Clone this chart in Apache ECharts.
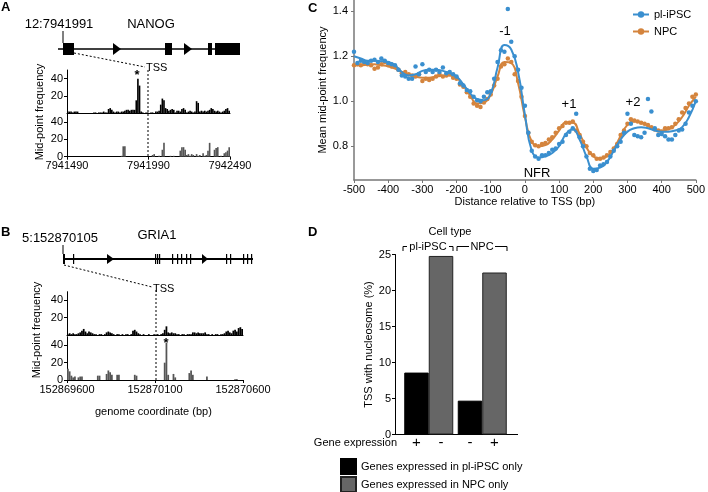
<!DOCTYPE html>
<html><head><meta charset="utf-8">
<script src="https://cdn.jsdelivr.net/npm/echarts@6/dist/echarts.min.js"></script>
<style>html,body{margin:0;padding:0;background:#fff}#c{width:708px;height:492px}</style>
</head><body><div id="c"></div>
<script>
const FONT = 'Liberation Sans, Arial, Helvetica, sans-serif';

// ---------- Panel A (NANOG) : 10-bp bins starting at aStart ----------
const aStart = 7941490;
const binSize = 10;
const aTicks = [7941490, 7941990, 7942490];
const aIPSC = [2,2,2,1,2,2,2, 0,0,0,0,0,0,0,0,0, 1,1,0,1,1,1,2,1,1, 5,6,4, 2,1,2,2,1,2,2,3, 4,4,3,4,4, 4,15,40,32,2, 1,0,1,1, 0,1,1,0, 2,2, 3,10,17,15,6, 5,3,4, 5,4, 1, 3,3,2, 5,6,4, 1,2,3,2,1,2, 14,12, 2,3,2,3,2,3, 4,6,5,3, 2,3,2,1,2,3, 5,6,3];
const aNPC = [0,0,0,0,0,0,0,0,0,0, 0,0,0,0,0,0,0,0,0,0, 0,0,0,0,0,0,0,0,0,0, 0,0,0, 1,12,12, 0,0,0,0,0,0,0,0,0,0,0,0,0,0,0,0, 2,3, 0,0,1,0, 8,16, 0,0,0,1, 0,1,0,0,0, 7,11,11,8, 2,3,1,3,2,0,3,1,2,0, 4, 1,2, 7,16, 0,0, 8,10,11, 0,1,0, 4,5, 7,11];

// ---------- Panel B (GRIA1) ----------
const bStart = 152869600;
const bTicks = [152869600, 152870100, 152870600];
const bIPSC = [1,2,1,2,1,1,2, 3,5,7,4,2, 4,3,2, 1,1,0,1,1,0,1, 3,4,3,2, 1,0,1,1,0,1,0,1,1,0,1, 5,6,4,2, 1,0,1,0,0,1,0,0,1,0,1,0,1,2, 6,10,3, 2,3,2,2, 1,1,0,1,1,0,1,1,1, 3,3,2,3,2,2, 2,3,1,1,0, 1,0,1,1,0,1,1,2, 4,5,3,2, 5,6,4, 8,9,7];
const bNPC = [13,10,5, 3,4,0,3, 4,4,0, 0,0,0,0,0,0,0, 5,5, 0,0,0, 7,11,9,6,0, 0,6,6,0, 0,0,0,0,0,0,0, 6,5,0, 0,0,0,0,0,0,0,0,0,0,0,0,0,0, 20,43,6, 0,0, 7,3, 0,0,0,0,0,0, 0, 8,11,6, 0,0,0,0,0,0,0, 4, 0,0,0,0,0,0,0,0,0,0,0,0,0,0,0, 1,1, 0,0,0];

// gene models (schematic units along the drawn gene line)
const geneALine = [[0, 182]];
const geneAExons = [[5, 16], [107, 114], [150, 154], [157, 182]];
const geneAArrows = [[55, 63], [126, 134]];
const geneBLine = [[0, 190]];
const geneBExons = [[0, 2], [10, 11], [92, 93], [94, 95], [96, 97], [109, 110], [114, 115], [118, 119], [123, 124], [127, 128], [163, 164], [167, 168], [180, 181], [184, 185], [188, 189]];
const geneBArrows = [[44, 51], [139, 145]];

// ---------- Panel C ----------
const cFitStep = 20, cDotStep = 10;
const cFitIPSC = [1.20,1.19,1.18,1.18,1.178,1.175,1.16,1.13,1.115,1.12,1.135,1.14,1.14,1.135,1.125,1.11,1.075,1.035,1.01,1.005,1.035,1.15,1.25,1.23,1.13,0.94,0.78,0.75,0.755,0.77,0.80,0.855,0.875,0.83,0.755,0.70,0.705,0.73,0.78,0.83,0.865,0.88,0.885,0.88,0.87,0.865,0.865,0.87,0.885,0.93,1.00];
const cFitNPC = [1.16,1.16,1.162,1.164,1.16,1.155,1.145,1.13,1.12,1.11,1.105,1.105,1.11,1.113,1.115,1.105,1.07,1.025,0.99,0.995,1.03,1.11,1.175,1.17,1.08,0.93,0.82,0.80,0.805,0.83,0.87,0.905,0.905,0.855,0.795,0.755,0.745,0.755,0.79,0.845,0.895,0.91,0.905,0.89,0.875,0.87,0.875,0.895,0.93,0.98,1.02];
const cDotIPSC = [1.22,1.17,1.18,1.175,1.17,1.18,1.185,1.175,1.19,1.18,
 1.17,1.165,1.16,1.14,1.115,1.11,1.10,1.10,1.155,1.12,
 1.165,1.13,1.14,1.13,1.14,1.13,1.15,1.125,1.13,1.12,
 1.11,1.08,1.07,1.05,1.045,1.02,1.005,1.00,1.02,1.04,
 1.045,1.10,1.175,1.227,1.22,1.41,1.265,1.20,1.14,1.06,
 0.98,0.86,0.78,0.755,0.745,0.76,0.76,0.77,0.785,0.79,
 0.81,0.82,0.85,0.865,0.88,0.945,0.84,0.80,0.755,0.70,
 0.69,0.695,0.715,0.72,0.73,0.755,0.78,0.80,0.82,0.86,
 0.945,0.90,0.85,0.845,0.84,0.86,1.01,0.955,0.88,0.85,
 0.855,0.845,0.83,0.83,0.85,0.87,0.875,0.90,0.95,0.98,
 1.00];
const cDotNPC = [1.16,1.165,1.16,1.17,1.165,1.16,1.145,1.15,1.165,1.175,
 1.16,1.155,1.155,1.14,1.125,1.13,1.12,1.115,1.11,1.12,
 1.09,1.10,1.095,1.10,1.11,1.12,1.11,1.115,1.12,1.105,
 1.10,1.075,1.065,1.04,1.02,0.99,0.98,0.975,0.995,1.01,
 1.03,1.07,1.10,1.155,1.165,1.19,1.175,1.12,1.09,1.02,
 0.935,0.86,0.82,0.805,0.80,0.81,0.815,0.83,0.84,0.86,
 0.88,0.89,0.905,0.905,0.91,0.87,0.85,0.82,0.80,0.77,
 0.76,0.745,0.745,0.75,0.76,0.775,0.79,0.81,0.85,0.87,
 0.90,0.92,0.915,0.91,0.905,0.90,0.895,0.885,0.875,0.87,
 0.865,0.88,0.88,0.885,0.90,0.92,0.95,0.97,0.99,1.02,
 1.03];
const cXMin = -500, cXMax = 500;
const cYTicks = [0.8, 1.0, 1.2, 1.4];

// ---------- Panel D ----------
const dCellTypes = ['pl-iPSC', 'NPC'];
const dIPSCOnly = [8.6, 4.7];
const dNPCOnly = [24.8, 22.5];
const dIPSCExpr = ['+', '-'];
const dNPCExpr = ['-', '+'];

// ---------------------------------------------------------------
const BLUE = '#3a8fcf', ORANGE = '#d4843d';
const chart = echarts.init(document.getElementById('c'));
const bins = (start, arr) => arr.map((_, i) => String(start + i * binSize));
const pairs = (step, arr) => arr.map((v, i) => [cXMin + i * step, v]);

function histY(grid, labels) {
  return {
    type: 'value', gridIndex: grid, min: 0, max: 50,
    axisLine: {show: true, onZero: false, lineStyle: {color: '#000', width: 1}},
    axisTick: {show: true, length: 3, customValues: labels, lineStyle: {color: '#000'}},
    axisLabel: {customValues: labels, fontSize: 11, color: '#000', margin: 4, fontFamily: FONT},
    splitLine: {show: false}
  };
}
function genomeX(grid, start, ticks) {
  return {
    type: 'value', gridIndex: grid, min: start, max: start + 1000, position: 'bottom',
    axisLine: {show: true, onZero: false, lineStyle: {color: '#000', width: 1}},
    axisTick: {show: true, length: 3, customValues: ticks, lineStyle: {color: '#000'}},
    axisLabel: {customValues: ticks, formatter: v => String(v), fontSize: 11, color: '#000', margin: 4, fontFamily: FONT},
    splitLine: {show: false}
  };
}
function catX(grid, data, showLine) {
  return {
    type: 'category', gridIndex: grid, data: data, boundaryGap: true,
    axisLine: {show: showLine, onZero: false, lineStyle: {color: '#000', width: 1}},
    axisTick: {show: false}, axisLabel: {show: false}, splitLine: {show: false}
  };
}
function geneRender(lw) {
  return function (params, api) {
    const kind = api.value(2);
    const s = api.coord([api.value(0), 0.5]);
    const e = api.coord([api.value(1), 0.5]);
    const top = api.coord([0, 1])[1], bot = api.coord([0, 0])[1];
    if (kind === 0) return {type: 'line', shape: {x1: s[0], y1: s[1], x2: e[0], y2: e[1]}, style: {stroke: '#000', lineWidth: lw}};
    if (kind === 1) return {type: 'rect', shape: {x: s[0], y: top, width: Math.max(e[0] - s[0], 1.2), height: bot - top}, style: {fill: '#000'}};
    return {type: 'polygon', shape: {points: [[s[0], top], [e[0], s[1]], [s[0], bot]]}, style: {fill: '#000'}};
  };
}
const geneData = (line, exons, arrows) =>
  line.map(d => [d[0], d[1], 0]).concat(exons.map(d => [d[0], d[1], 1]), arrows.map(d => [d[0], d[1], 2]));

function txt(x, y, s, opt) {
  return {type: 'text', x: x, y: y, style: Object.assign({text: s, fontSize: 11, fontFamily: FONT, fill: '#000', align: 'center', verticalAlign: 'middle'}, opt || {})};
}
function rtxt(x, y, s) {
  return {type: 'text', x: x, y: y, rotation: Math.PI / 2, style: {text: s, fontSize: 11, fontFamily: FONT, fill: '#000', align: 'center', verticalAlign: 'middle'}};
}
function ln(x1, y1, x2, y2, dash, w) {
  return {type: 'line', shape: {x1: x1, y1: y1, x2: x2, y2: y2}, style: {stroke: '#000', lineWidth: w || 1, lineDash: dash ? [2, 2] : null}};
}
function dLegend(name, top) {
  return {
    data: [name], left: 340, top: top, orient: 'vertical', icon: 'rect', padding: 0,
    itemWidth: 15, itemHeight: 15, itemGap: 3, selectedMode: false,
    textStyle: {fontSize: 11, color: '#000', fontFamily: FONT}
  };
}

const option = {
  animation: false,
  textStyle: {fontFamily: FONT, color: '#000'},
  grid: [
    {left: 67, top: 70, width: 163, height: 43.3},      // 0 A upper
    {left: 67, top: 113.4, width: 163, height: 43.3},   // 1 A lower
    {left: 67, top: 291.7, width: 176, height: 43.3},   // 2 B upper
    {left: 67, top: 336.7, width: 176, height: 43.3},   // 3 B lower
    {left: 354, top: 0, width: 343, height: 180},       // 4 C
    {left: 402, top: 254.5, width: 107, height: 180},   // 5 D
    {left: 58, top: 43, width: 182, height: 12},        // 6 gene A
    {left: 63, top: 254, width: 190, height: 10}        // 7 gene B
  ],
  xAxis: [
    catX(0, bins(aStart, aIPSC), true),
    Object.assign(catX(1, bins(aStart, aNPC), false), {show: false}),
    genomeX(1, aStart, aTicks),
    catX(2, bins(bStart, bIPSC), true),
    Object.assign(catX(3, bins(bStart, bNPC), false), {show: false}),
    genomeX(3, bStart, bTicks),
    {
      type: 'value', gridIndex: 4, min: cXMin, max: cXMax, interval: 100,
      axisLine: {show: true, onZero: false, lineStyle: {color: '#777', width: 1.5}},
      axisTick: {show: true, length: 3, lineStyle: {color: '#777'}},
      axisLabel: {fontSize: 11, color: '#000', margin: 4, fontFamily: FONT},
      splitLine: {show: false},
      name: 'Distance relative to TSS (bp)', nameLocation: 'middle', nameGap: 16,
      nameTextStyle: {fontSize: 11, color: '#000', fontFamily: FONT}
    },
    {type: 'category', gridIndex: 5, data: dCellTypes, axisLine: {show: false}, axisTick: {show: false}, axisLabel: {show: false}},
    {type: 'value', gridIndex: 6, min: 0, max: 182, show: false},
    {type: 'value', gridIndex: 7, min: 0, max: 190, show: false}
  ],
  yAxis: [
    histY(0, [20, 40]),
    histY(1, [0, 20, 40]),
    histY(2, [20, 40]),
    histY(3, [0, 20, 40]),
    {
      type: 'value', gridIndex: 4, min: 0.65, max: 1.45,
      axisLine: {show: true, onZero: false, lineStyle: {color: '#777', width: 1.5}},
      axisTick: {show: true, length: 3, customValues: cYTicks, lineStyle: {color: '#777'}},
      axisLabel: {customValues: cYTicks, formatter: v => v.toFixed(1), fontSize: 11, color: '#000', margin: 6, fontFamily: FONT},
      splitLine: {show: false},
      name: 'Mean mid-point frequency', nameLocation: 'middle', nameGap: 24,
      nameTextStyle: {fontSize: 11, color: '#000', fontFamily: FONT}
    },
    {
      type: 'value', gridIndex: 5, min: 0, max: 25, interval: 5, offset: 7,
      axisLine: {show: true, onZero: false, lineStyle: {color: '#000', width: 1}},
      axisTick: {show: true, length: 3, lineStyle: {color: '#000'}},
      axisLabel: {fontSize: 11, color: '#000', margin: 4, fontFamily: FONT},
      splitLine: {show: false},
      name: 'TSS with nucleosome (%)', nameLocation: 'middle', nameGap: 20,
      nameTextStyle: {fontSize: 11, color: '#000', fontFamily: FONT}
    },
    {type: 'value', gridIndex: 6, min: 0, max: 1, show: false},
    {type: 'value', gridIndex: 7, min: 0, max: 1, show: false}
  ],
  legend: [
    {
      data: ['pl-iPSC', 'NPC'], left: 632, top: 9, orient: 'vertical', padding: 0,
      itemWidth: 16, itemHeight: 8, itemGap: 6, selectedMode: false,
      textStyle: {fontSize: 11, color: '#000', fontFamily: FONT}
    },
    dLegend('Genes expressed in pl-iPSC only', 458),
    dLegend('Genes expressed in NPC only', 476)
  ],
  series: [
    {type: 'bar', name: 'A pl-iPSC', xAxisIndex: 0, yAxisIndex: 0, data: aIPSC, barCategoryGap: 0, itemStyle: {color: '#000'}},
    {type: 'bar', name: 'A NPC', xAxisIndex: 1, yAxisIndex: 1, data: aNPC, barCategoryGap: 0, itemStyle: {color: '#555'}},
    {type: 'bar', name: 'B pl-iPSC', xAxisIndex: 3, yAxisIndex: 2, data: bIPSC, barCategoryGap: 0, itemStyle: {color: '#000'}},
    {type: 'bar', name: 'B NPC', xAxisIndex: 4, yAxisIndex: 3, data: bNPC, barCategoryGap: 0, itemStyle: {color: '#555'}},
    {type: 'line', name: 'pl-iPSC', xAxisIndex: 6, yAxisIndex: 4, data: pairs(cFitStep, cFitIPSC), smooth: 0.5,
      symbol: 'circle', symbolSize: 5, showSymbol: false, lineStyle: {color: BLUE, width: 2}, itemStyle: {color: BLUE}, z: 3},
    {type: 'line', name: 'NPC', xAxisIndex: 6, yAxisIndex: 4, data: pairs(cFitStep, cFitNPC), smooth: 0.5,
      symbol: 'circle', symbolSize: 5, showSymbol: false, lineStyle: {color: ORANGE, width: 2}, itemStyle: {color: ORANGE}, z: 2},
    {type: 'scatter', name: 'pl-iPSC points', xAxisIndex: 6, yAxisIndex: 4, data: pairs(cDotStep, cDotIPSC), symbolSize: 4.5, itemStyle: {color: BLUE, opacity: 1}, z: 3},
    {type: 'scatter', name: 'NPC points', xAxisIndex: 6, yAxisIndex: 4, data: pairs(cDotStep, cDotNPC), symbolSize: 4.5, itemStyle: {color: ORANGE, opacity: 1}, z: 2},
    {type: 'bar', name: 'Genes expressed in pl-iPSC only', xAxisIndex: 7, yAxisIndex: 5, data: dIPSCOnly, barWidth: 24.5, barGap: '0%',
      itemStyle: {color: '#000', borderColor: '#000', borderWidth: 1},
      label: {show: true, position: 'bottom', distance: 1, formatter: p => dIPSCExpr[p.dataIndex], fontSize: 15, color: '#000', fontFamily: FONT}},
    {type: 'bar', name: 'Genes expressed in NPC only', xAxisIndex: 7, yAxisIndex: 5, data: dNPCOnly, barWidth: 24.5, barGap: '0%',
      itemStyle: {color: '#666', borderColor: '#222', borderWidth: 1},
      label: {show: true, position: 'bottom', distance: 1, formatter: p => dNPCExpr[p.dataIndex], fontSize: 15, color: '#000', fontFamily: FONT}},
    {type: 'custom', name: 'NANOG model', xAxisIndex: 8, yAxisIndex: 6, renderItem: geneRender(1.5), data: geneData(geneALine, geneAExons, geneAArrows), clip: false},
    {type: 'custom', name: 'GRIA1 model', xAxisIndex: 9, yAxisIndex: 7, renderItem: geneRender(2), data: geneData(geneBLine, geneBExons, geneBArrows), clip: false}
  ],
  graphic: [
    // panel letters
    txt(1, 7, 'A', {fontSize: 13, fontWeight: 'bold', align: 'left'}),
    txt(1, 232, 'B', {fontSize: 13, fontWeight: 'bold', align: 'left'}),
    txt(308, 8, 'C', {fontSize: 13, fontWeight: 'bold', align: 'left'}),
    txt(308, 232, 'D', {fontSize: 13, fontWeight: 'bold', align: 'left'}),
    // panel A annotations
    txt(59, 24, '12:7941991', {fontSize: 13}),
    txt(151, 24, 'NANOG', {fontSize: 13}),
    ln(63, 31, 63, 43, false, 1),
    ln(74, 53, 145, 67, true, 1),
    ln(148, 70, 148, 157, true, 1),
    txt(146, 68, 'TSS', {fontSize: 11, align: 'left'}),
    txt(137, 75, '*', {fontSize: 13, fontWeight: 'bold'}),
    rtxt(40, 112, 'Mid-point frequency'),
    // panel B annotations
    txt(60, 238, '5:152870105', {fontSize: 13}),
    txt(157, 235, 'GRIA1', {fontSize: 13}),
    ln(63, 245, 63, 254, false, 1),
    ln(64, 265, 152, 287, true, 1),
    ln(156, 290, 156, 381, true, 1),
    txt(153, 289, 'TSS', {fontSize: 11, align: 'left'}),
    txt(166, 343, '*', {fontSize: 13, fontWeight: 'bold'}),
    rtxt(37, 330, 'Mid-point frequency'),
    txt(95, 412, 'genome coordinate (bp)', {fontSize: 11, align: 'left'}),
    // panel C annotations
    txt(505, 31, '-1', {fontSize: 13}),
    txt(569, 104, '+1', {fontSize: 13}),
    txt(633, 102, '+2', {fontSize: 13}),
    txt(537, 173, 'NFR', {fontSize: 13}),
    // panel D annotations
    txt(450, 232, 'Cell type', {fontSize: 11}),
    txt(428, 247, 'pl-iPSC', {fontSize: 11}),
    txt(482, 247, 'NPC', {fontSize: 11}),
    ln(403, 251, 403, 246.5), ln(403, 246.5, 407, 246.5),
    ln(449, 246.5, 453, 246.5), ln(453, 246.5, 453, 251),
    ln(457, 251, 457, 246.5), ln(457, 246.5, 469, 246.5),
    ln(495, 246.5, 507, 246.5), ln(507, 246.5, 507, 251),
    ln(395, 434.5, 518, 434.5, false, 1),
    txt(397, 443, 'Gene expression', {fontSize: 11, align: 'right'})
  ]
};
chart.setOption(option);
</script>
</body></html>
